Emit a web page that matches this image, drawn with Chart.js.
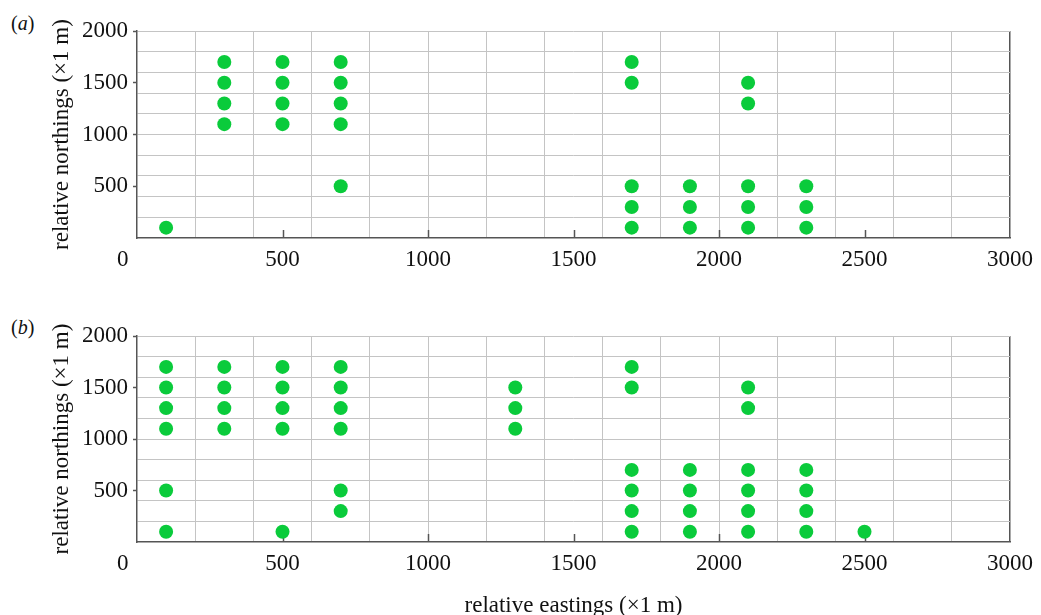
<!DOCTYPE html>
<html>
<head>
<meta charset="utf-8">
<script src="https://cdn.jsdelivr.net/npm/chart.js@4"></script>
<style>
  html, body { margin: 0; padding: 0; background: #fff; }
  body { width: 1041px; height: 615px; overflow: hidden; position: relative; font-family: 'Liberation Serif', 'Times New Roman', serif; }
  canvas { position: absolute; left: 0; }
  .plab { position: absolute; left: 11px; font-size: 20px; line-height: 20px; color: #111; }
</style>
</head>
<body>
<div class="plab" style="top:13px">(<i>a</i>)</div>
<div class="plab" style="top:317px">(<i>b</i>)</div>
<canvas id="ca" width="1041" height="300" style="top:0"></canvas>
<canvas id="cb" width="1041" height="330" style="top:300px"></canvas>
<script>
// ---- data ----
const xTickLabels = [0, 500, 1000, 1500, 2000, 2500, 3000];
const yTickLabels = [500, 1000, 1500, 2000];
const gridStep = 200;

const panelA_x = [100, 300, 300, 300, 300, 500, 500, 500, 500, 700, 700, 700, 700, 700,
  1700, 1700, 1700, 1700, 1700, 1900, 1900, 1900, 2100, 2100, 2100, 2100, 2100, 2300, 2300, 2300];
const panelA_y = [100, 1100, 1300, 1500, 1700, 1100, 1300, 1500, 1700, 500, 1100, 1300, 1500, 1700,
  100, 300, 500, 1500, 1700, 100, 300, 500, 100, 300, 500, 1300, 1500, 100, 300, 500];

const panelB_x = [100, 100, 100, 100, 100, 100, 300, 300, 300, 300, 500, 500, 500, 500, 500,
  700, 700, 700, 700, 700, 700, 1300, 1300, 1300, 1700, 1700, 1700, 1700, 1700, 1700,
  1900, 1900, 1900, 1900, 2100, 2100, 2100, 2100, 2100, 2100, 2300, 2300, 2300, 2300, 2500];
const panelB_y = [100, 500, 1100, 1300, 1500, 1700, 1100, 1300, 1500, 1700, 100, 1100, 1300, 1500, 1700,
  300, 500, 1100, 1300, 1500, 1700, 1100, 1300, 1500, 100, 300, 500, 700, 1500, 1700,
  100, 300, 500, 700, 100, 300, 500, 700, 1300, 1500, 100, 300, 500, 700, 100];

const xMin = 0, xMax = 3000, yMin = 0, yMax = 2000;
const yTitle = 'relative northings (\u00d71 m)';
const xTitle = 'relative eastings (\u00d71 m)';

// ---- style ----
const FONT = "'Liberation Serif', 'Times New Roman', serif";
const GRID = '#c4c4c4';
const AXIS = '#555555';
const DOT = '#0acb3b';
const CLEAR = 'rgba(0,0,0,0)';

Chart.defaults.font.family = FONT;
Chart.defaults.font.size = 23;
Chart.defaults.color = '#111';

function tickSet(min, max, labels) {
  const s = new Set(labels);
  for (let v = min; v <= max; v += gridStep) s.add(v);
  return Array.from(s).sort((a, b) => a - b).map(v => ({ value: v }));
}

const innerXTicks = {
  id: 'innerXTicks',
  beforeDatasetsDraw(chart) {
    const { ctx, chartArea } = chart;
    const xs = chart.scales.x;
    ctx.save();
    ctx.strokeStyle = AXIS;
    ctx.lineWidth = 1.5;
    xTickLabels.forEach(v => {
      if (v <= xMin || v >= xMax) return;
      const px = Math.round(xs.getPixelForValue(v)) + 0.5;
      ctx.beginPath();
      ctx.moveTo(px, chartArea.bottom);
      ctx.lineTo(px, chartArea.bottom - 8);
      ctx.stroke();
    });
    ctx.restore();
  }
};

function makeChart(id, xs, ys, opt) {
  const pts = xs.map((x, i) => ({ x: x, y: ys[i] }));
  return new Chart(document.getElementById(id), {
    type: 'scatter',
    data: { datasets: [{ data: pts, backgroundColor: DOT, borderWidth: 0, pointRadius: 7, pointHoverRadius: 7 }] },
    plugins: [innerXTicks],
    options: {
      responsive: false,
      animation: false,
      devicePixelRatio: 1,
      layout: { padding: { top: opt.top, right: 26, left: 0, bottom: 0 } },
      plugins: { legend: { display: false }, tooltip: { enabled: false } },
      scales: {
        x: {
          type: 'linear', min: xMin, max: xMax,
          afterBuildTicks: s => { s.ticks = tickSet(xMin, xMax, xTickLabels); },
          afterFit: s => { s.height = opt.xh; },
          ticks: {
            autoSkip: false, maxRotation: 0, padding: 8,
            callback: v => xTickLabels.includes(v) ? (v === 0 ? '0     ' : String(v)) : ''
          },
          grid: {
            drawTicks: false,
            color: c => {
              const v = c.tick.value;
              if (v === xMax) return AXIS;
              if (v === xMin) return CLEAR;
              return v % gridStep === 0 ? GRID : CLEAR;
            },
            lineWidth: c => c.tick.value === xMax ? 1.5 : 1
          },
          border: { display: true, color: AXIS, width: 1.5 },
          title: { display: opt.xTitle, text: xTitle, padding: { top: 0, bottom: 10 }, font: { size: 23 } }
        },
        y: {
          type: 'linear', min: yMin, max: yMax,
          afterBuildTicks: s => { s.ticks = tickSet(yMin, yMax, yTickLabels); },
          afterFit: s => { s.width = 137; },
          ticks: {
            autoSkip: false, padding: 5,
            callback: v => yTickLabels.includes(v) ? String(v) : ''
          },
          grid: {
            drawTicks: true, tickLength: 4, tickWidth: 1.5,
            tickColor: c => yTickLabels.includes(c.tick.value) ? AXIS : CLEAR,
            color: c => {
              const v = c.tick.value;
              if (v === yMin) return CLEAR;
              return v % gridStep === 0 ? GRID : CLEAR;
            },
            lineWidth: 1
          },
          border: { display: true, color: AXIS, width: 1.5 },
          title: { display: true, text: yTitle, padding: { top: 48, bottom: 0 }, font: { size: 23 } }
        }
      }
    }
  });
}

makeChart('ca', panelA_x, panelA_y, { top: 31, xh: 62, xTitle: false });
makeChart('cb', panelB_x, panelB_y, { top: 36, xh: 88, xTitle: true });
</script>
</body>
</html>
